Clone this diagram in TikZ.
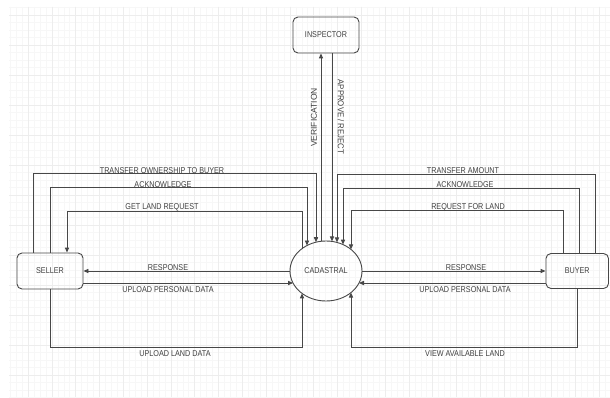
\documentclass[tikz,border=0pt]{standalone}
\usepackage{fontspec}
\usepackage{graphicx}
\setmainfont{Liberation Sans}
\usetikzlibrary{arrows.meta,shapes.geometric,calc}

% narrow caps used for every text in the chart
\newcommand{\nar}[1]{\scalebox{0.85}[1]{#1}}

\tikzset{
  ink/.style={draw=black!72, line width=0.9pt},
  flow/.style={ink, -{Triangle[length=5pt,width=4.2pt]}},
  txt/.style={font=\fontsize{8.5}{10}\selectfont, text=black!75},
  entity/.style={ink, txt, rectangle, rounded corners=5pt, inner sep=0pt},
  store/.style={ink, txt, ellipse, inner sep=0pt, minimum width=72pt, minimum height=60pt},
  tag/.style={txt, inner sep=0pt},
  gridmajor/.style={draw=black!7, line width=0.5pt},
  gridminor/.style={draw=black!3, line width=0.4pt}
}

\begin{document}
\begin{tikzpicture}[x=1pt, y=-1pt]
  % page and faint drawing grid
  \fill[white] (0,0) rectangle (610,398);
  \useasboundingbox (0,0) rectangle (610,398);
  \begin{scope}
    \clip (9,7) rectangle (610,397);
    \foreach \k in {0,...,104} {
      \draw[gridminor] ({4.2+5.95*\k},7) -- ({4.2+5.95*\k},397);
    }
    \foreach \k in {0,...,52} {
      \draw[gridminor] (9,{7.5+7.5*\k}) -- (610,{7.5+7.5*\k});
    }
    \foreach \k in {0,...,26} {
      \draw[gridmajor] ({4.2+23.8*\k},7) -- ({4.2+23.8*\k},397);
    }
    \foreach \k in {0,...,13} {
      \draw[gridmajor] (9,{15+30*\k}) -- (610,{15+30*\k});
    }
  \end{scope}

  % entities and the data store
  \node[entity, minimum width=66pt, minimum height=36pt] (inspector) at (326,35) {\nar{INSPECTOR}};
  \node[entity, minimum width=66pt, minimum height=36pt] (seller) at (50,271) {\nar{SELLER}};
  \node[entity, minimum width=62.5pt, minimum height=35pt] (buyer) at (577.25,271) {\nar{BUYER}};
  \node[store] (cad) at (326,271) {\nar{CADASTRAL}};

  % seller side, upper bus
  \draw[flow] ($(seller.north)+(-17,0)$) -- ++(0,-79) -| ($(cad.center)+(-10,-28.8)$);
  \draw[flow] (seller.north) -- ++(0,-65) -| ($(cad.center)+(-19,-25.5)$);
  \draw[flow] ($(cad.center)+(-24,-22.4)$) -- ++(0,-37.6) -| ($(seller.north)+(17,0)$);

  % seller side, direct links
  \draw[flow] (cad.west) -- (cad.west -| seller.east);
  \draw[flow] ($(seller.east)+(0,12)$) -- ($(cad.center)+(-33,12)$);
  \draw[flow] (seller.south) -- ++(0,58) -| ($(cad.center)+(-24,22.4)$);

  % inspector links
  \draw[flow] ($(cad.center)+(-5,-29.7)$) -- ($(inspector.south)+(-5,0)$);
  \draw[flow] ($(inspector.south)+(6,0)$) -- ($(cad.center)+(6,-29.6)$);

  % buyer side, upper bus
  \draw[flow] ($(buyer.north)+(17.75,0)$) -- ++(0,-78.5) -| ($(cad.center)+(11,-28.6)$);
  \draw[flow] ($(buyer.north)+(1.75,0)$) -- ++(0,-64.5) -| ($(cad.center)+(17,-26.4)$);
  \draw[flow] ($(buyer.north)+(-14.25,0)$) -- ++(0,-42.5) -| ($(cad.center)+(25,-21.6)$);

  % buyer side, direct links
  \draw[flow] (cad.east) -- (cad.east -| buyer.west);
  \draw[flow] ($(buyer.west)+(0,12)$) -- ($(cad.center)+(33,12)$);
  \draw[flow] (buyer.south) -- ++(0,58.5) -| ($(cad.center)+(25,21.6)$);

  % flow labels
  \node[tag] (tOwn) at (162,171) {\nar{TRANSFER OWNERSHIP TO BUYER}};
  \node[tag] (tAckS) at (163,185) {\nar{ACKNOWLEDGE}};
  \node[tag] (tGet) at (162,207) {\nar{GET LAND REQUEST}};
  \node[tag] (tRespS) at (168,267.5) {\nar{RESPONSE}};
  \node[tag] (tUpS) at (168,289.5) {\nar{UPLOAD PERSONAL DATA}};
  \node[tag] (tLand) at (175,353.5) {\nar{UPLOAD LAND DATA}};

  \node[tag] (tAmt) at (463,171) {\nar{TRANSFER AMOUNT}};
  \node[tag] (tAckB) at (465,185) {\nar{ACKNOWLEDGE}};
  \node[tag] (tReq) at (468,207) {\nar{REQUEST FOR LAND}};
  \node[tag] (tRespB) at (466,267.5) {\nar{RESPONSE}};
  \node[tag] (tUpB) at (465,289.5) {\nar{UPLOAD PERSONAL DATA}};
  \node[tag] (tView) at (465,353.5) {\nar{VIEW AVAILABLE LAND}};

  \node[tag, rotate=90] (tVer) at (314,117.5) {VERIFICATION};
  \node[tag, rotate=-90] (tApp) at (341,117) {\scalebox{0.92}[1]{APPROVE / REJECT}};
\end{tikzpicture}
\end{document}
